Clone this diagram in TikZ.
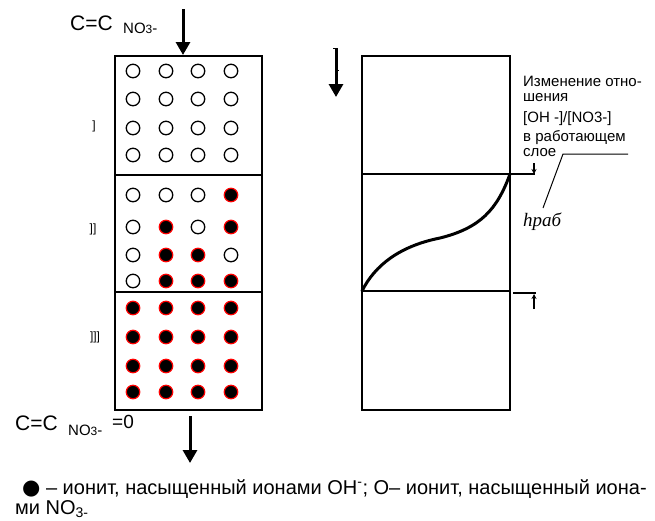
\documentclass[tikz,border=0pt]{standalone}
\usepackage{fontspec}
\setmainfont{Liberation Sans}
\newfontfamily\serifit{Liberation Serif}
\newfontfamily\dejavu{DejaVu Sans}
\usetikzlibrary{arrows.meta}
\tikzset{
  ocirc/.style={circle,draw=black,line width=1.3pt,minimum size=13.5pt,inner sep=0pt},
  fcirc/.style={circle,draw=red,fill=black,line width=1.2pt,minimum size=13.5pt,inner sep=0pt},
  frame/.style={line width=1.5pt},
  thin frame/.style={line width=1.3pt},
  bigarrow/.style={line width=3pt,-{Triangle[width=14pt,length=13pt]}},
  lbl/.style={inner sep=0pt,anchor=base west},
  smalltext/.style={lbl,font=\fontsize{15}{17}\selectfont},
  legend/.style={lbl,font=\fontsize{20}{22}\selectfont},
  roman/.style={inner sep=0pt,font=\fontsize{12}{14}\selectfont}
}
\begin{document}
\begin{tikzpicture}[x=1pt,y=-1pt]
\useasboundingbox (0,0) rectangle (655,520);

% ---------- left column ----------
\draw[frame] (115,56) rectangle (262,410);
\draw[line width=2pt] (115,175) -- (262,175);
\draw[line width=2.8pt] (115,292) -- (262,292);

\foreach \y [count=\r] in {71,99,128,155}{
  \foreach \x [count=\c] in {133,166,198,231}{
    \node[ocirc] (a\r\c) at (\x,\y) {};
  }
}
\foreach \r/\y/\ta/\tb/\tc/\td in {1/195/ocirc/ocirc/ocirc/fcirc,
                                  2/227/ocirc/fcirc/ocirc/fcirc,
                                  3/255/ocirc/fcirc/fcirc/ocirc,
                                  4/281/ocirc/fcirc/fcirc/fcirc}{
  \node[\ta] (b\r1) at (133,\y) {};
  \node[\tb] (b\r2) at (166,\y) {};
  \node[\tc] (b\r3) at (198,\y) {};
  \node[\td] (b\r4) at (231,\y) {};
}
\foreach \y [count=\r] in {308,337,366,392}{
  \foreach \x [count=\c] in {133,166,198,231}{
    \node[fcirc] (c\r\c) at (\x,\y) {};
  }
}

\node[roman] (r1) at (94,126) {]};
\node[roman] (r2) at (93,229) {]]};
\node[roman] (r3) at (95,337) {]]]};

% top / bottom labels and arrows
\node[lbl,font=\fontsize{21}{23}\selectfont] (cin) at (70,30) {C=C};
\node[lbl,font=\fontsize{15}{17}\selectfont] (nin) at (123,33) {NO{\fontsize{12}{14}\selectfont 3}-};
\coordinate (ta) at (183,9);
\coordinate (tb) at (183,55);
\draw[bigarrow] (ta) -- (tb);

\node[lbl,font=\fontsize{21}{23}\selectfont] (cout) at (15,430) {C=C};
\node[lbl,font=\fontsize{15}{17}\selectfont] (nout) at (68,435) {NO{\fontsize{12}{14}\selectfont 3}-};
\node[lbl,font=\fontsize{19}{21}\selectfont] (zout) at (112,428) {=0};
\coordinate (ba) at (190,416);
\coordinate (bb) at (190,463);
\draw[bigarrow] (ba) -- (bb);

% ---------- right column ----------
\draw[thin frame] (362,56) rectangle (510,410);
\draw[line width=1.1pt] (362,174) -- (510,174);
\draw[line width=1.1pt] (362,291) -- (510,291);

\draw[line width=3pt,line cap=round] (362,291) .. controls (375,265) and (400,246) .. (440,238)
   .. controls (480,228) and (497,210) .. (510,174);

\coordinate (ra) at (336,48);
\coordinate (rb) at (336,97);
\draw[bigarrow] (ra) -- (rb);
\draw[line width=1pt] (333,48) -- (337,48);
\draw[line width=1pt] (336,70) -- (339,70);

% upper mark
\coordinate (um1) at (510,174);
\coordinate (um2) at (535,174);
\coordinate (um3) at (534,163);
\draw[line width=1.1pt] (um1) -- (um2);
\draw[line width=1.1pt,-{Stealth[length=5pt,width=5pt]}] (um3) -- (534,174);

% lower mark
\coordinate (lm1) at (513,293);
\coordinate (lm2) at (536,293);
\coordinate (lm3) at (534,309);
\draw[line width=1.1pt] (lm1) -- (lm2);
\draw[line width=1.1pt,-{Stealth[length=5pt,width=5pt]}] (lm3) -- (534,294);

% text on the right
\node[smalltext] (t1) at (523,86) {Изменение отно-};
\node[smalltext] (t2) at (523,101) {шения};
\node[smalltext] (t3) at (523,122) {[OH -]/[NO3-]};
\node[smalltext] (t4) at (523,141) {в работающем};
\node[smalltext] (t5) at (523,156) {слое};

\coordinate (le1) at (628,154);
\coordinate (le2) at (563,154);
\coordinate (le3) at (543,208);
\draw[line width=1pt] (le1) -- (le2) -- (le3);
\node[lbl,font=\serifit\itshape\fontsize{19}{22}\selectfont] (h) at (523,226) {hраб};

% ---------- legend ----------
\node[legend] (lg1) at (22,494) {{\dejavu\fontsize{21}{22}\selectfont ●} – ионит, насыщенный ионами OH\textsuperscript{-}; O– ионит, насыщенный иона-};
\node[legend] (lg2) at (15,514) {ми NO\textsubscript{3-}};
\end{tikzpicture}
\end{document}
